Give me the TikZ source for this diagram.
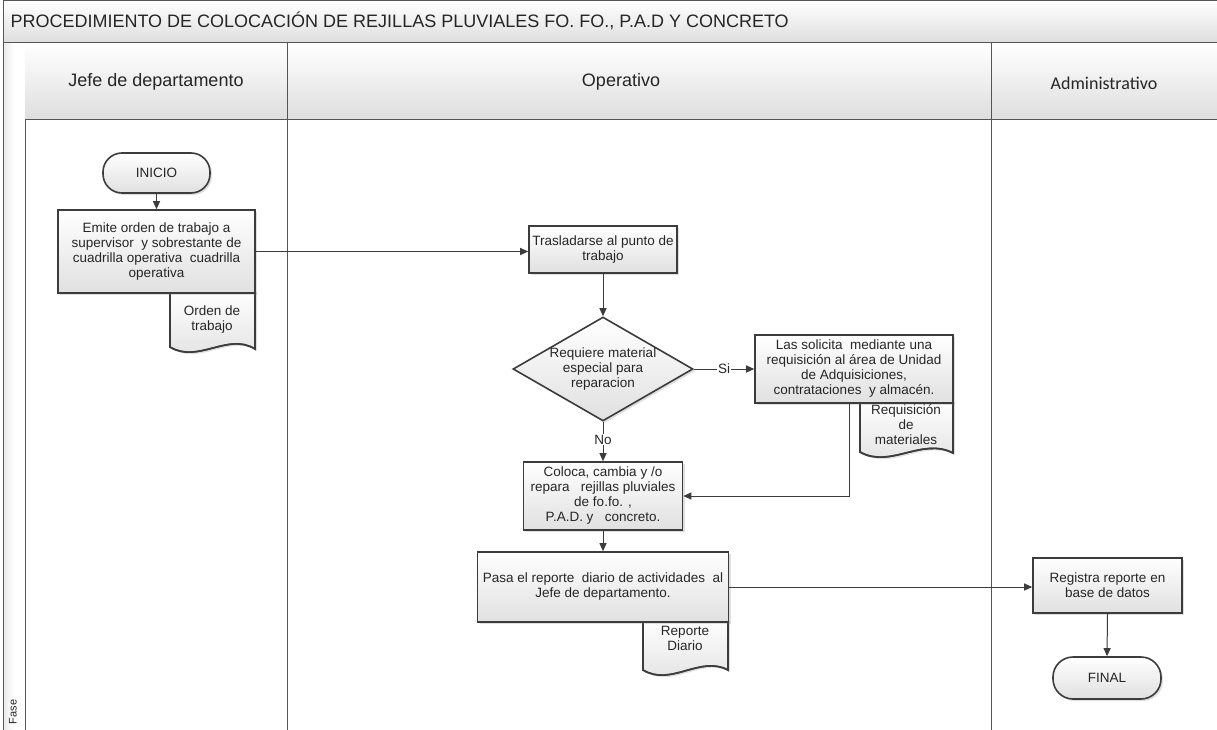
\documentclass[tikz,border=0pt]{standalone}
\usepackage{fontspec}
\setmainfont{Liberation Sans}
\newfontfamily\calib{Carlito}
\usetikzlibrary{arrows.meta,shapes.geometric,shadows}
\definecolor{edge}{HTML}{3C3C3C}
\definecolor{lane}{HTML}{555555}
\definecolor{ink}{HTML}{262626}
\begin{document}
\begin{tikzpicture}[x=1pt,y=-1pt,
  bandfill/.style={top color=white,bottom color=black!13,draw=none},
  laneline/.style={draw=lane,line width=1pt},
  boxtext/.style={align=center,font=\fontsize{13.5}{15}\selectfont,text=ink},
  proc/.style={boxtext,draw=edge,line width=1.6pt,top color=white,bottom color=black!12,
    drop shadow={opacity=0.25,shadow xshift=2pt,shadow yshift=-2pt},inner sep=2pt},
  term/.style={proc,rounded corners=19pt},
  decision/.style={proc,diamond,inner sep=0pt,minimum width=180pt,minimum height=104pt},
  docshape/.style={draw=edge,line width=1.6pt,top color=white,bottom color=black!12,
    drop shadow={opacity=0.25,shadow xshift=2pt,shadow yshift=-2pt}},
  conn/.style={draw=edge,line width=1pt,-{Triangle[length=8pt,width=7pt]}},
  lbl/.style={fill=white,inner sep=1pt,font=\fontsize{13.5}{15}\selectfont,text=ink},
  header/.style={font=\fontsize{18}{20}\selectfont,text=ink}
]
\useasboundingbox (0,0) rectangle (1217,730);
\fill[white] (0,0) rectangle (1217,730);
% title band
\path[bandfill] (3,1) rectangle (1217,43);
\draw[laneline] (1217,1) -- (3,1) -- (3,730);
\draw[laneline] (3,43) -- (1217,43);
\node[header,anchor=west] (title) at (7,21) {PROCEDIMIENTO DE COLOCACIÓN DE REJILLAS PLUVIALES FO. FO., P.A.D Y CONCRETO};
% phase strip
\path[left color=black!8,right color=white,middle color=white] (3.5,43.5) rectangle (25,730);
\draw[laneline] (3,43) -- (3,730);
\draw[laneline] (25,43) -- (25,730);
\node[rotate=90,font=\fontsize{11}{12}\selectfont,text=ink] (fase) at (13,712) {Fase};
% header cells
\path[bandfill] (25,43.5) rectangle (1217,120);
\draw[laneline] (3,43) -- (1217,43);
\draw[laneline] (25,120) -- (1217,120);
\draw[laneline] (287,43) -- (287,730);
\draw[laneline] (991,43) -- (991,730);
\node[header] (h1) at (156,82) {Jefe de departamento};
\node[header] (h2) at (621,82) {Operativo};
\node[header,font=\calib\fontsize{18}{20}\selectfont] (h3) at (1104,83) {Administrativo};

% documents (drawn before the boxes that cover their tops)
\path[docshape] (170,290) -- (170,347) .. controls (198,364) and (228,332) .. (255,349) -- (255,290);
\draw[edge,line width=1.6pt] (170,290) -- (170,347) .. controls (198,364) and (228,332) .. (255,349) -- (255,290);
\node[boxtext] (orden) at (212,320) {Orden de\\trabajo};

\path[docshape] (860,400) -- (860,452) .. controls (890,469) and (922,437) .. (953,453) -- (953,400);
\draw[edge,line width=1.6pt] (860,400) -- (860,452) .. controls (890,469) and (922,437) .. (953,453) -- (953,400);
\node[boxtext] (reqdoc) at (906,425) {Requisición\\de\\materiales};

\path[docshape] (643,619) -- (643,670) .. controls (671,687) and (700,655) .. (728,670) -- (728,619);
\draw[edge,line width=1.6pt] (643,619) -- (643,670) .. controls (671,687) and (700,655) .. (728,670) -- (728,619);
\node[boxtext] (repdoc) at (685,638) {Reporte\\Diario};

% process nodes
\node[term,minimum width=107pt,minimum height=40pt] (inicio) at (156.5,173) {INICIO};
\node[proc,minimum width=197pt,minimum height=83pt] (emite) at (156.5,251.5)
  {Emite orden de trabajo a\\supervisor\ \ y sobrestante de\\cuadrilla operativa\ \ cuadrilla\\operativa};
\node[proc,minimum width=148pt,minimum height=47pt] (tras) at (603,249.5)
  {Trasladarse al punto de\\trabajo};
\node[decision,label={[boxtext]center:Requiere material\\especial para\\reparacion}] (dec) at (603,369) {};
\node[proc,minimum width=198pt,minimum height=68pt] (sol) at (854,369)
  {Las solicita\ \ mediante una\\requisición al área de Unidad\\de Adquisiciones,\\contrataciones\ \ y almacén.};
\node[proc,minimum width=159pt,minimum height=68pt] (coloca) at (603,496)
  {Coloca, cambia y /o\\repara\ \ \ rejillas pluviales\\de fo.fo. ,\\P.A.D. y\ \ \ concreto.};
\node[proc,minimum width=251pt,minimum height=70pt] (pasa) at (603,587)
  {Pasa el reporte\ \ diario de actividades\ \ al\\Jefe de departamento.};
\node[proc,minimum width=149pt,minimum height=55pt] (reg) at (1107.5,585.5)
  {Registra reporte en\\base de datos};
\node[term,rounded corners=20pt,minimum width=108pt,minimum height=42pt] (final) at (1107,678) {FINAL};

% connectors
\coordinate (bend) at (849,496);
\draw[conn] (inicio.south) -- (emite.north);
\draw[conn] (emite.east) -- (emite.east -| tras.west);
\draw[conn] (tras.south) -- (dec.north);
\draw[conn] (dec.east) -- node[lbl] {Si} (sol.west);
\draw[conn] (dec.south) -- node[lbl,pos=0.45] {No} (coloca.north);
\draw[conn] (sol.south -| bend) -- (bend) -- (coloca.east);
\draw[conn] (coloca.south) -- (pasa.north);
\draw[conn] (pasa.east) -- (pasa.east -| reg.west);
\draw[conn] (reg.south) -- (final.north);
\end{tikzpicture}
\end{document}
